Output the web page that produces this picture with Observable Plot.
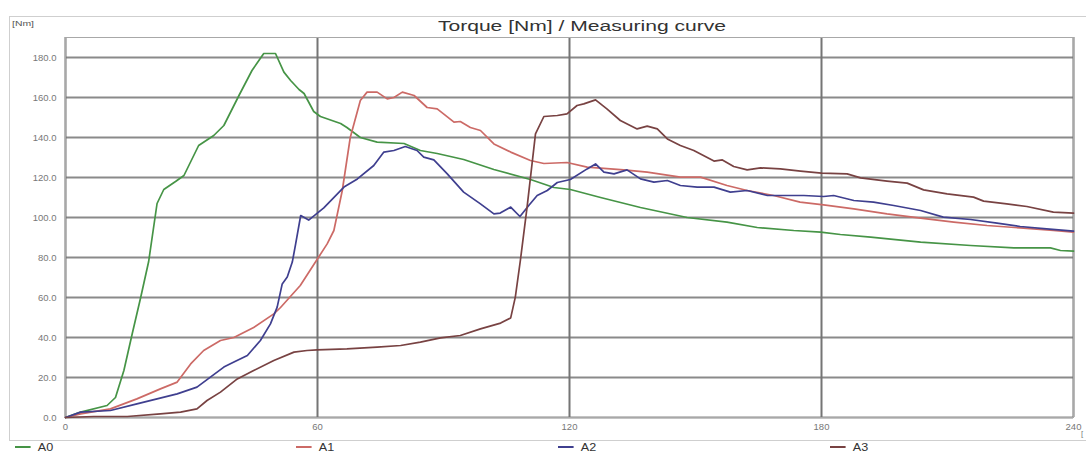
<!DOCTYPE html>
<html>
<head>
<meta charset="utf-8">
<script src="https://cdn.jsdelivr.net/npm/d3@7"></script>
<script src="https://cdn.jsdelivr.net/npm/@observablehq/plot@0.6"></script>
<style>
  html, body { margin: 0; padding: 0; background: #fff; }
  #wrap { position: relative; width: 1086px; height: 454px; overflow: hidden; background: #fff;
          font-family: "Liberation Sans", Arial, sans-serif; }
  #outer { position: absolute; left: 9px; top: 16px; width: 1100px; height: 425px;
           border: 1px solid #cfcfcf; box-sizing: border-box; }
  #title { position: absolute; left: 582px; top: 17px; white-space: nowrap;
           font-size: 15.5px; color: #333; transform: translateX(-50%) scaleX(1.36); transform-origin: center; }
  #unit { position: absolute; left: 12px; top: 19px; font-size: 8px; color: #555;
          transform: scaleX(1.3); transform-origin: left; }
  #xunit { position: absolute; left: 1081px; top: 429px; font-size: 8px; color: #777; }
  .leg { position: absolute; top: 441px; font-size: 10.5px; line-height: 12px; color: #333; white-space: nowrap;
         transform: scaleX(1.2); transform-origin: left; }
  .leg span { display: inline-block; width: 13px; height: 2px; vertical-align: middle; margin-right: 6px; position: relative; top: -1px; }
  #plot { position: absolute; left: 0; top: 0; }
</style>
</head>
<body>
<div id="wrap">
  <div id="outer"></div>
  <div id="plot"></div>
  <div id="title"></div>
  <div id="unit"></div>
  <div id="xunit">[</div>
  <div id="legend"></div>
</div>
<script>
// ---- Data (time, torque [Nm]) ----
const title = "Torque [Nm] / Measuring curve";
const yUnit = "[Nm]";
const xTicks = [0, 60, 120, 180, 240];
const yTicks = [0, 20, 40, 60, 80, 100, 120, 140, 160, 180];
const seriesNames = ["A0", "A1", "A2", "A3"];
const seriesColors = ["#469446", "#cc6a66", "#3f3f8f", "#784242"];

const A0 = [[0,0],[3.6,2.7],[9.9,6],[11.9,10],[13.9,23.5],[15.9,42],[17.9,60],[19.8,78],[21.8,107],[23.4,114],[26.2,118],[28.2,121],[31.7,136],[35.3,141],[37.7,146],[41.3,161],[44.4,173.5],[47.2,182],[50,182],[52,172.7],[53.6,168.5],[55.6,164],[56.8,162],[59.1,153],[60.7,150.5],[65.5,147],[67,145],[70.2,140],[74.2,137.7],[80.6,137],[84.5,133.5],[88.5,132],[94.8,129],[102,124],[110.7,119],[116.3,115],[120.2,114],[127.4,110],[136.9,105],[148,100],[157.5,97.7],[164.7,95],[173.4,93.5],[179.8,92.7],[184.5,91.5],[191.7,90.2],[203.6,87.7],[215.5,86],[225.8,84.8],[234.5,84.8],[236.9,83.5],[240,83.2]];

const A1 = [[0,0],[3.6,1.8],[10.7,4.3],[17,9.3],[22.6,14.3],[26.6,17.7],[29.8,26.8],[32.9,33.5],[36.9,38.5],[40.1,40],[44.8,45],[49.6,51.8],[51.2,55],[55.9,66],[59.9,79],[62.3,86.8],[63.9,93.5],[65.9,113.5],[67.8,140],[70.2,158.5],[71.8,162.7],[74.2,162.7],[76.6,159.3],[78.2,160],[80.2,162.7],[83,161],[86.1,155],[88.5,154.3],[92.5,147.7],[94,148],[96.4,145],[98.8,143.5],[102,136.8],[106,132.7],[110.7,128.5],[113.9,127],[119.4,127.5],[124.2,125.2],[132.9,123.8],[138.5,122.7],[146.4,120.2],[151.2,120.2],[157.5,116],[162.3,113.5],[168.6,111],[174.9,107.7],[180.5,106.3],[187.7,104.3],[195.6,101.8],[203.6,99.7],[211.5,97.7],[219.4,96],[227.3,94.8],[235.2,93.5],[240,92.7]];

const A2 = [[0,0],[3.6,2.7],[10.7,3.5],[17,6.8],[21.8,9.3],[26.6,11.8],[31.3,15.2],[34.5,20.2],[37.7,25.2],[40.1,27.7],[43.3,31],[46.4,38.5],[48.8,46.8],[50.4,55.2],[51.6,66.8],[52.8,70.2],[54,77.7],[54.8,86.8],[56,101],[57.9,98.7],[61.5,104.8],[66.3,115.2],[69.5,119.3],[73.4,126],[75.8,132.7],[78.2,133.5],[80.9,135.5],[83.7,133.5],[85.3,130.2],[87.7,128.8],[90.9,121.8],[94.8,112.7],[98.8,106.8],[102,101.8],[103.5,102.2],[106,105.2],[108.2,100.5],[110.3,106],[112.3,111],[114.7,113.5],[117.1,117.5],[120.2,119],[124.2,124.3],[126.2,126.8],[128.2,122.7],[130.6,121.8],[133.7,123.8],[136.9,119.3],[140.1,117.7],[143.3,118.5],[146.4,116],[150.4,115.2],[154.4,115.2],[158.3,112.7],[162.3,113.5],[167.1,111],[171.8,111],[175.8,111],[180.5,110.5],[182.9,111],[187.7,108.5],[192.4,107.7],[197.2,106],[203.6,103.5],[209,100.2],[215.5,99],[221.8,97.2],[227.3,95.5],[233.6,94.3],[240,93.2]];

const A3 = [[0,0],[6.7,0.5],[14.7,0.5],[22.6,1.8],[27.4,2.7],[31.3,4.3],[33.7,8.5],[36.9,12.7],[40.9,19.3],[44.8,23.5],[49.6,28.5],[54.4,32.7],[57.5,33.5],[59.9,33.8],[67,34.3],[74.2,35.2],[79.8,36],[84.5,37.7],[89.3,39.8],[94,41],[98.8,44.3],[103.6,47.2],[106,49.8],[107.1,60.2],[108.3,78.5],[109.9,105.2],[111.9,141.8],[113.9,150.5],[117.1,151],[119.4,151.8],[121.8,156],[123.4,156.8],[126.2,158.8],[128.9,154.3],[132.1,148.5],[136.1,144.3],[138.5,145.7],[140.9,144.3],[143.3,139.3],[146.4,136],[149.6,133.5],[154.4,128.2],[156.4,128.8],[159.1,125.5],[162.3,123.8],[165.5,124.8],[170.2,124.3],[175,123.2],[180,122.2],[186.1,121.8],[189.3,119.8],[195.6,118.2],[200.4,117.2],[204.3,113.8],[209.9,111.8],[216.2,110.2],[218.6,108.2],[224.1,106.8],[228.9,105.5],[235.2,102.7],[240,102.2]];

const seriesData = [A0, A1, A2, A3];
const legendX = [15, 296, 558, 830];

// ---- Chart ----
const lineMarks = seriesData.map((s, i) =>
  Plot.line(s, {x: d => d[0], y: d => d[1], stroke: seriesColors[i], strokeWidth: 1.7, curve: "linear"})
);

const chart = Plot.plot({
  width: 1086,
  height: 454,
  marginLeft: 65,
  marginRight: 13,
  marginTop: 37,
  marginBottom: 37,
  style: {fontFamily: "'Liberation Sans', Arial, sans-serif", background: "transparent", overflow: "visible"},
  x: {domain: [0, 240]},
  y: {domain: [0, 190]},
  marks: [
    Plot.ruleY(yTicks, {stroke: "#8a8a8a", strokeWidth: 1.9}),
    Plot.ruleX(xTicks, {stroke: "#757575", strokeWidth: 2}),
    Plot.frame({stroke: "#a8a8a8", strokeWidth: 1}),
    ...lineMarks,
    Plot.axisY(yTicks, {tickSize: 0, tickPadding: 9, tickFormat: d => d.toFixed(1), fontSize: 9.5, fill: "#777"}),
    Plot.axisX(xTicks, {tickSize: 0, tickPadding: 6, tickFormat: d => String(d), fontSize: 9.5, fill: "#777"})
  ]
});
document.getElementById("plot").appendChild(chart);
document.getElementById("title").textContent = title;
document.getElementById("unit").textContent = yUnit;

const leg = document.getElementById("legend");
seriesNames.forEach((n, i) => {
  const d = document.createElement("div");
  d.className = "leg";
  d.style.left = legendX[i] + "px";
  const sw = document.createElement("span");
  sw.style.background = seriesColors[i];
  d.appendChild(sw);
  d.appendChild(document.createTextNode(n));
  leg.appendChild(d);
});
</script>
</body>
</html>
